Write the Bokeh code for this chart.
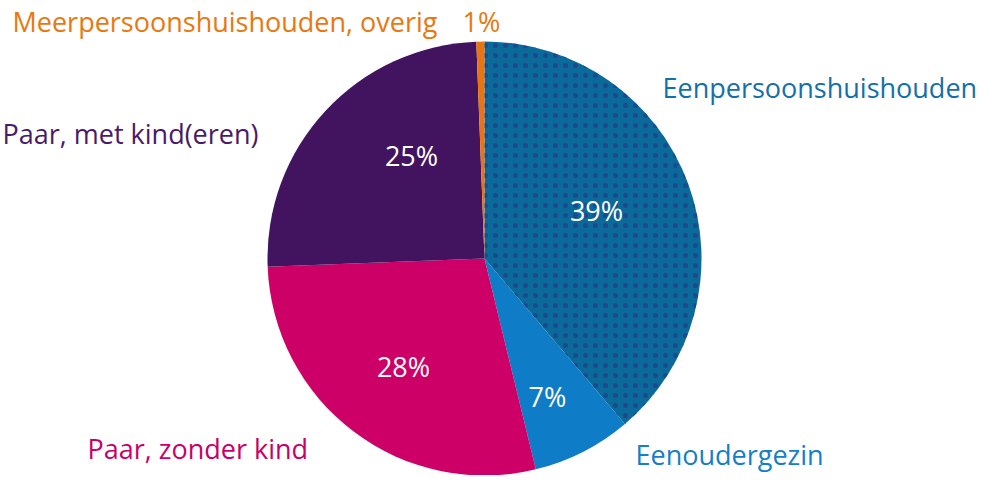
import math
from bokeh.plotting import figure
from bokeh.models import Range1d, ColumnDataSource
from bokeh.core.properties import value
from bokeh.embed import file_html
from bokeh.resources import INLINE

# ---- data ----
categories = ["Eenpersoonshuishouden", "Eenoudergezin", "Paar, zonder kind",
              "Paar, met kind(eren)", "Meerpersoonshuishouden, overig"]
shares = [38.8, 7.4, 28.2, 25.0, 0.6]
pct_labels = ["39%", "7%", "28%", "25%", "1%"]
colors = ["#0B6A9A", "#0E7CC6", "#CC0066", "#42145F", "#E87511"]
label_colors = ["#1470A8", "#1480C8", "#C8006A", "#4A1A6A", "#E8780F"]

# ---- layout (reference pixel coordinates) ----
W, H = 981, 475
OX, OY = 10, 12           # reference pixel shown at figure's top-left
CX, CY, R = 494, 270, 217
FONT = "Open Sans"
FS = "27px"

def X(px):
    return px

def Y(py):
    return 491 - py

p = figure(width=W, height=H, output_backend="svg", toolbar_location=None,
           x_range=Range1d(OX, OX + W), y_range=Range1d(491 - OY - H, 491 - OY),
           min_border=0)
p.axis.visible = False
p.grid.visible = False
p.outline_line_color = None
p.background_fill_color = "white"
p.border_fill_color = "white"

total = sum(shares)
starts, ends = [], []
cum = 0.0
for s in shares:
    starts.append(math.pi / 2 - 2 * math.pi * cum / total)
    cum += s
    ends.append(math.pi / 2 - 2 * math.pi * cum / total)

src = ColumnDataSource(dict(cat=categories, start=starts, end=ends, color=colors))
p.wedge(x=X(CX), y=Y(CY), radius=R, radius_units="data",
        start_angle="start", end_angle="end", direction="clock",
        fill_color="color", line_color=None, source=src)

# dotted texture on the one-person slice
p.wedge(x=X(CX), y=Y(CY), radius=R, radius_units="data",
        start_angle=starts[0], end_angle=ends[0], direction="clock",
        fill_alpha=0, line_color=None,
        hatch_pattern=".", hatch_color="#233C8C", hatch_scale=10,
        hatch_weight=0.5, hatch_alpha=0.75)

# inner percentage labels (center x, middle y)
inner_pos = [(606, 222), (557, 408), (413, 378), (421, 167)]
for i, (px, py) in enumerate(inner_pos):
    p.text(x=[X(px)], y=[Y(py)], text=[pct_labels[i]], text_color="white",
           text_font=value(FONT), text_font_size=FS, text_align="center",
           text_baseline="middle")

# outer category labels (left x, middle y)
outer_pos = [(672, 99), (645, 466), (97, 460), (12, 145), (22, 33)]
for i, (px, py) in enumerate(outer_pos):
    p.text(x=[X(px)], y=[Y(py)], text=[categories[i]], text_color=label_colors[i],
           text_font=value(FONT), text_font_size=FS, text_align="left",
           text_baseline="middle")

# small-slice percentage next to its label
p.text(x=[X(472)], y=[Y(33)], text=[pct_labels[4]], text_color=label_colors[4],
       text_font=value(FONT), text_font_size=FS, text_align="left",
       text_baseline="middle")

open("out.html", "w").write(file_html(p, INLINE))
